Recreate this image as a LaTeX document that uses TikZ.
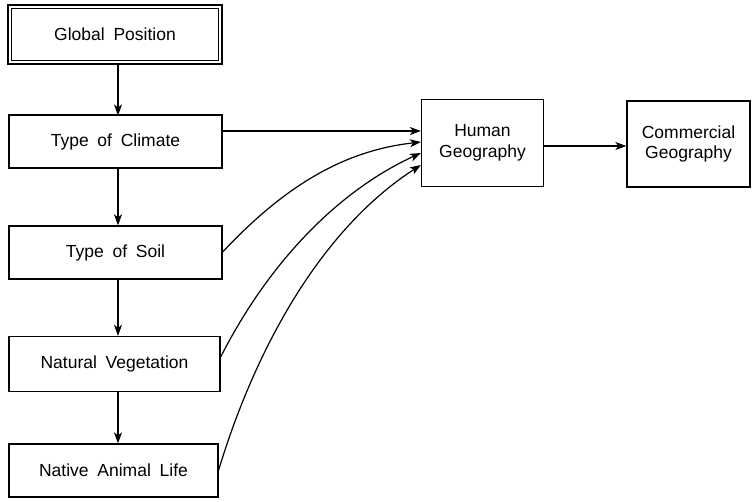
\documentclass[tikz,border=0pt]{standalone}
\usepackage{fontspec}
\setmainfont{Liberation Sans}
\usetikzlibrary{arrows.meta}
\begin{document}
\begin{tikzpicture}[x=1pt,y=-1pt,
  box/.style={draw,line width=1.3pt,inner sep=0pt,font=\fontsize{17.5}{20.5}\selectfont,align=center},
  conn/.style={line width=1.2pt,-{Stealth[length=11pt,width=8pt,inset=3pt]}}]
\useasboundingbox (0,0) rectangle (755,501);
% Global Position double box
\draw[line width=1.3pt] (8,5) rectangle (222,64);
\node[box,minimum width=207pt,minimum height=52pt] (gp) at (115,34.5) {Global\enspace Position};
\node[box,minimum width=213pt,minimum height=53pt] (cl) at (115.5,141.5) {Type\enspace of\enspace Climate};
\node[box,minimum width=213pt,minimum height=53pt] (so) at (115.5,252.5) {Type\enspace of\enspace Soil};
\node[box,minimum width=211pt,minimum height=55pt] (nv) at (114.5,364) {Natural\enspace Vegetation};
\node[box,minimum width=209pt,minimum height=53pt] (na) at (113.5,470.5) {Native\enspace Animal\enspace Life};
\node[box,minimum width=122pt,minimum height=87pt] (hg) at (482.5,143) {Human\\Geography};
\node[box,minimum width=123pt,minimum height=86pt] (cg) at (688.5,144) {Commercial\\Geography};
% vertical chain
\draw[conn] (118,64) -- (118,115.5);
\draw[conn] (118,168) -- (so.north -| 118,0);
\draw[conn] (118,279) -- (nv.north -| 118,0);
\draw[conn] (118,391.5) -- (na.north -| 118,0);
% to human geography
\draw[conn] (cl.east |- 0,131) -- (hg.west |- 0,131);
\draw[conn] (so.east |- 0,252) .. controls (290,180) and (350,150) .. (hg.west |- 0,142);
\draw[conn] (nv.east |- 0,357) .. controls (270,260) and (340,190) .. (hg.west |- 0,153);
\draw[conn] (na.east |- 0,470) .. controls (255,350) and (320,230) .. (hg.west |- 0,165);
\draw[conn] (hg.east |- 0,146) -- (cg.west |- 0,146);
\end{tikzpicture}
\end{document}
